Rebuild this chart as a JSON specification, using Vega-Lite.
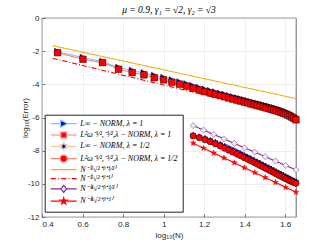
{
  "$schema": "https://vega.github.io/schema/vega-lite/v6.json",
  "width": 254,
  "height": 199,
  "autosize": "none",
  "padding": {"left": 42, "top": 18, "right": 31, "bottom": 28},
  "background": "white",
  "title": {"text": "μ = 0.9, γ₁ = √2, γ₂ = √3", "font": "Liberation Serif", "fontStyle": "italic", "fontSize": 9.5, "fontWeight": "normal", "color": "#000000", "offset": -0.5},
  "config": {
    "view": {"stroke": "#262626", "strokeWidth": 0.7},
    "axis": {"domain": false, "grid": true, "gridColor": "#e2e2e2", "gridWidth": 0.6, "tickColor": "#262626", "tickSize": -3, "tickWidth": 0.6, "labelFont": "Liberation Sans", "labelFontSize": 8, "labelColor": "#262626", "titleFont": "Liberation Sans", "titleFontSize": 8, "titleFontWeight": "normal", "titleColor": "#262626"}
  },
  "data": {"values": [
    {"s":"a","x":0.477,"y":-2.03},{"s":"a","x":0.602,"y":-2.39},{"s":"a","x":0.699,"y":-2.63},{"s":"a","x":0.778,"y":-2.99},{"s":"a","x":0.845,"y":-3.17},{"s":"a","x":0.903,"y":-3.31},{"s":"a","x":0.954,"y":-3.47},{"s":"a","x":1.0,"y":-3.6},{"s":"a","x":1.041,"y":-3.74},{"s":"a","x":1.079,"y":-3.86},{"s":"a","x":1.114,"y":-3.98},{"s":"a","x":1.146,"y":-4.1},{"s":"a","x":1.176,"y":-4.21},{"s":"a","x":1.204,"y":-4.31},{"s":"a","x":1.23,"y":-4.39},{"s":"a","x":1.255,"y":-4.47},{"s":"a","x":1.279,"y":-4.55},{"s":"a","x":1.301,"y":-4.62},{"s":"a","x":1.322,"y":-4.69},{"s":"a","x":1.342,"y":-4.76},{"s":"a","x":1.362,"y":-4.82},{"s":"a","x":1.38,"y":-4.88},{"s":"a","x":1.398,"y":-4.94},{"s":"a","x":1.415,"y":-4.99},{"s":"a","x":1.431,"y":-5.05},{"s":"a","x":1.447,"y":-5.1},{"s":"a","x":1.462,"y":-5.15},{"s":"a","x":1.477,"y":-5.19},{"s":"a","x":1.491,"y":-5.24},{"s":"a","x":1.505,"y":-5.29},{"s":"a","x":1.519,"y":-5.33},{"s":"a","x":1.531,"y":-5.38},{"s":"a","x":1.544,"y":-5.42},{"s":"a","x":1.556,"y":-5.46},{"s":"a","x":1.568,"y":-5.51},{"s":"a","x":1.58,"y":-5.56},{"s":"a","x":1.591,"y":-5.61},{"s":"a","x":1.602,"y":-5.66},{"s":"a","x":1.613,"y":-5.72},{"s":"a","x":1.623,"y":-5.78},{"s":"a","x":1.633,"y":-5.84},{"s":"a","x":1.643,"y":-5.91},{"s":"a","x":1.653,"y":-5.99},
    {"s":"b","x":0.477,"y":-2.09},{"s":"b","x":0.602,"y":-2.49},{"s":"b","x":0.699,"y":-2.69},{"s":"b","x":0.778,"y":-3.09},{"s":"b","x":0.845,"y":-3.29},{"s":"b","x":0.903,"y":-3.43},{"s":"b","x":0.954,"y":-3.6},{"s":"b","x":1.0,"y":-3.73},{"s":"b","x":1.041,"y":-3.87},{"s":"b","x":1.079,"y":-3.99},{"s":"b","x":1.114,"y":-4.11},{"s":"b","x":1.146,"y":-4.23},{"s":"b","x":1.176,"y":-4.34},{"s":"b","x":1.204,"y":-4.44},{"s":"b","x":1.23,"y":-4.52},{"s":"b","x":1.255,"y":-4.6},{"s":"b","x":1.279,"y":-4.68},{"s":"b","x":1.301,"y":-4.75},{"s":"b","x":1.322,"y":-4.82},{"s":"b","x":1.342,"y":-4.89},{"s":"b","x":1.362,"y":-4.95},{"s":"b","x":1.38,"y":-5.01},{"s":"b","x":1.398,"y":-5.07},{"s":"b","x":1.415,"y":-5.12},{"s":"b","x":1.431,"y":-5.18},{"s":"b","x":1.447,"y":-5.23},{"s":"b","x":1.462,"y":-5.28},{"s":"b","x":1.477,"y":-5.32},{"s":"b","x":1.491,"y":-5.37},{"s":"b","x":1.505,"y":-5.42},{"s":"b","x":1.519,"y":-5.46},{"s":"b","x":1.531,"y":-5.51},{"s":"b","x":1.544,"y":-5.55},{"s":"b","x":1.556,"y":-5.59},{"s":"b","x":1.568,"y":-5.64},{"s":"b","x":1.58,"y":-5.69},{"s":"b","x":1.591,"y":-5.74},{"s":"b","x":1.602,"y":-5.79},{"s":"b","x":1.613,"y":-5.85},{"s":"b","x":1.623,"y":-5.91},{"s":"b","x":1.633,"y":-5.98},{"s":"b","x":1.643,"y":-6.05},{"s":"b","x":1.653,"y":-6.14},
    {"s":"c","x":1.146,"y":-7.08},{"s":"c","x":1.176,"y":-7.17},{"s":"c","x":1.204,"y":-7.27},{"s":"c","x":1.23,"y":-7.38},{"s":"c","x":1.255,"y":-7.5},{"s":"c","x":1.279,"y":-7.62},{"s":"c","x":1.301,"y":-7.74},{"s":"c","x":1.322,"y":-7.86},{"s":"c","x":1.342,"y":-7.97},{"s":"c","x":1.362,"y":-8.08},{"s":"c","x":1.38,"y":-8.19},{"s":"c","x":1.398,"y":-8.3},{"s":"c","x":1.415,"y":-8.4},{"s":"c","x":1.431,"y":-8.5},{"s":"c","x":1.447,"y":-8.6},{"s":"c","x":1.462,"y":-8.69},{"s":"c","x":1.477,"y":-8.78},{"s":"c","x":1.491,"y":-8.87},{"s":"c","x":1.505,"y":-8.96},{"s":"c","x":1.519,"y":-9.04},{"s":"c","x":1.531,"y":-9.12},{"s":"c","x":1.544,"y":-9.2},{"s":"c","x":1.556,"y":-9.28},{"s":"c","x":1.568,"y":-9.36},{"s":"c","x":1.58,"y":-9.43},{"s":"c","x":1.591,"y":-9.5},{"s":"c","x":1.602,"y":-9.57},{"s":"c","x":1.613,"y":-9.64},{"s":"c","x":1.623,"y":-9.71},{"s":"c","x":1.633,"y":-9.77},{"s":"c","x":1.643,"y":-9.83},{"s":"c","x":1.653,"y":-9.89},
    {"s":"d","x":1.146,"y":-7.11},{"s":"d","x":1.176,"y":-7.22},{"s":"d","x":1.204,"y":-7.34},{"s":"d","x":1.23,"y":-7.46},{"s":"d","x":1.255,"y":-7.59},{"s":"d","x":1.279,"y":-7.72},{"s":"d","x":1.301,"y":-7.85},{"s":"d","x":1.322,"y":-7.97},{"s":"d","x":1.342,"y":-8.09},{"s":"d","x":1.362,"y":-8.2},{"s":"d","x":1.38,"y":-8.31},{"s":"d","x":1.398,"y":-8.42},{"s":"d","x":1.415,"y":-8.52},{"s":"d","x":1.431,"y":-8.62},{"s":"d","x":1.447,"y":-8.72},{"s":"d","x":1.462,"y":-8.81},{"s":"d","x":1.477,"y":-8.9},{"s":"d","x":1.491,"y":-8.99},{"s":"d","x":1.505,"y":-9.08},{"s":"d","x":1.519,"y":-9.16},{"s":"d","x":1.531,"y":-9.24},{"s":"d","x":1.544,"y":-9.32},{"s":"d","x":1.556,"y":-9.4},{"s":"d","x":1.568,"y":-9.48},{"s":"d","x":1.58,"y":-9.55},{"s":"d","x":1.591,"y":-9.62},{"s":"d","x":1.602,"y":-9.69},{"s":"d","x":1.613,"y":-9.76},{"s":"d","x":1.623,"y":-9.82},{"s":"d","x":1.633,"y":-9.87},{"s":"d","x":1.643,"y":-9.92},{"s":"d","x":1.653,"y":-9.97},
    {"s":"e","x":0.453,"y":-1.67},{"s":"e","x":1.653,"y":-4.86},
    {"s":"f","x":0.453,"y":-2.43},{"s":"f","x":1.653,"y":-5.96},
    {"s":"g","x":1.146,"y":-6.49},{"s":"g","x":1.197,"y":-6.76},{"s":"g","x":1.247,"y":-7.02},{"s":"g","x":1.298,"y":-7.29},{"s":"g","x":1.349,"y":-7.56},{"s":"g","x":1.399,"y":-7.83},{"s":"g","x":1.45,"y":-8.09},{"s":"g","x":1.501,"y":-8.36},{"s":"g","x":1.552,"y":-8.63},{"s":"g","x":1.602,"y":-8.89},{"s":"g","x":1.653,"y":-9.16},
    {"s":"h","x":1.146,"y":-7.55},{"s":"h","x":1.197,"y":-7.85},{"s":"h","x":1.247,"y":-8.14},{"s":"h","x":1.298,"y":-8.44},{"s":"h","x":1.349,"y":-8.73},{"s":"h","x":1.399,"y":-9.03},{"s":"h","x":1.45,"y":-9.32},{"s":"h","x":1.501,"y":-9.62},{"s":"h","x":1.552,"y":-9.91},{"s":"h","x":1.602,"y":-10.21},{"s":"h","x":1.653,"y":-10.5}
  ]},
  "encoding": {
    "x": {"field": "x", "type": "quantitative", "scale": {"domain": [0.4, 1.6532], "nice": false, "zero": false},
      "axis": {"values": [0.4, 0.6, 0.8, 1.0, 1.2, 1.4, 1.6], "labelExpr": "format(datum.value, '.1~f')", "title": "log₁₀(N)", "labelPadding": 6, "titlePadding": 3}},
    "y": {"field": "y", "type": "quantitative", "scale": {"domain": [-12, 0], "nice": false, "zero": false},
      "axis": {"values": [-12, -10, -8, -6, -4, -2, 0], "labelExpr": "'' + datum.value", "title": "log₁₀(Error)", "labelPadding": 6, "titlePadding": -2}}
  },
  "layer": [
    {
      "mark": {"type": "line", "strokeWidth": 1.1, "clip": false},
      "encoding": {
        "color": {"field": "s", "type": "nominal",
          "scale": {"domain": ["a","b","c","d","e","f","g","h"], "range": ["#8cc0f0", "#ff7f7f", "#f3c9a6", "#ff7f7f", "#edb120", "#ff0000", "#7e2f8e", "#ff0000"]},
          "legend": {
            "orient": "none", "legendX": 2.7, "legendY": 96.7, "title": null, "direction": "vertical",
            "symbolSize": 49, "symbolStrokeWidth": 1.2, "symbolOffset": 10, "labelOffset": 12,
            "labelFont": "Liberation Serif", "labelFontStyle": "italic", "labelFontSize": 8, "labelColor": "#000000",
            "padding": 4.5, "rowPadding": -0.7, "strokeColor": "#262626", "fillColor": "#ffffff",
            "labelExpr": "datum.value == 'a' ? 'L∞ − NORM, λ = 1' : datum.value == 'b' ? 'L²ω⁻¹⁄²,⁻¹⁄²,λ − NORM, λ = 1' : datum.value == 'c' ? 'L∞ − NORM, λ = 1/2' : datum.value == 'd' ? 'L²ω⁻¹⁄²,⁻¹⁄²,λ − NORM, λ = 1/2' : datum.value == 'e' ? 'N⁻⁽²√²⁺ᵝ⁺¹⁄²⁾' : datum.value == 'f' ? 'N⁻⁽²√²⁺ᵝ⁺¹⁾' : datum.value == 'g' ? 'N⁻⁽⁴√²⁺ᵝ⁺¹⁄²⁾' : 'N⁻⁽⁴√²⁺ᵝ⁺¹⁾'",
            "encode": {"symbols": {"update": {
              "shape": {"signal": "datum.value == 'a' ? 'M-3.7,0H-1M1,0H3.7M-0.9,-1L1.1,0L-0.9,1Z' : datum.value == 'b' ? 'M-3.7,0H-0.8M0.8,0H3.7M-0.8,-0.8H0.8V0.8H-0.8Z' : datum.value == 'c' ? 'M-3.7,0H-0.9M0.9,0H3.7M0,-1L0.289,-0.5L0.866,-0.5L0.577,0L0.866,0.5L0.289,0.5L0,1L-0.289,0.5L-0.866,0.5L-0.577,0L-0.866,-0.5L-0.289,-0.5Z' : datum.value == 'd' ? 'M-3.7,0H-1M1,0H3.7M1,0A1,1,0,1,1,-1,0A1,1,0,1,1,1,0Z' : datum.value == 'e' ? 'M-3.7,0H3.7' : datum.value == 'f' ? 'M-3.7,0H-2.2M-1.6,0H-1.3M-0.7,0H0.8M1.4,0H1.7M2.3,0H3.7' : datum.value == 'g' ? 'M-3.7,0H-0.8M0.8,0H3.7M0,-1L0.8,0L0,1L-0.8,0Z' : 'M-3.7,0H-1M1,0H3.7M0,-1L0.225,-0.309L0.951,-0.309L0.363,0.118L0.588,0.809L0,0.382L-0.588,0.809L-0.363,0.118L-0.951,-0.309L-0.225,-0.309Z'"},
              "fill": {"signal": "datum.value == 'a' || datum.value == 'c' ? '#0000ff' : datum.value == 'g' ? '#efe6f5' : datum.value == 'e' || datum.value == 'f' ? 'transparent' : '#ff0000'"}
            }}}
          }},
        "strokeDash": {"field": "s", "type": "nominal",
          "scale": {"domain": ["a","b","c","d","e","f","g","h"], "range": [[1,0],[1,0],[1,0],[1,0],[1,0],[5,2,1,2],[1,0],[1,0]]},
          "legend": null}
      }
    },
    {
      "transform": [{"filter": "datum.s != 'e' && datum.s != 'f'"}],
      "mark": {"type": "point", "filled": true, "strokeWidth": 0.5, "opacity": 1, "clip": false},
      "encoding": {
        "shape": {"field": "s", "type": "nominal",
          "scale": {"domain": ["a","b","c","d","g","h"], "range": ["triangle-right", "square", "M0,-1L0.289,-0.5L0.866,-0.5L0.577,0L0.866,0.5L0.289,0.5L0,1L-0.289,0.5L-0.866,0.5L-0.577,0L-0.866,-0.5L-0.289,-0.5Z", "circle", "diamond", "M0,-1L0.225,-0.309L0.951,-0.309L0.363,0.118L0.588,0.809L0,0.382L-0.588,0.809L-0.363,0.118L-0.951,-0.309L-0.225,-0.309Z"]},
          "legend": null},
        "fill": {"field": "s", "type": "nominal",
          "scale": {"domain": ["a","b","c","d","g","h"], "range": ["#0000ff", "#ff0000", "#0000ff", "#ff0000", "#efe6f5", "#ff0000"]},
          "legend": null},
        "stroke": {"field": "s", "type": "nominal",
          "scale": {"domain": ["a","b","c","d","g","h"], "range": ["#000000", "#000000", "#000000", "#000000", "#7e2f8e", "#ff0000"]},
          "legend": null},
        "size": {"field": "s", "type": "nominal",
          "scale": {"domain": ["a","b","c","d","g","h"], "range": [45, 36, 60, 55, 30, 60]},
          "legend": null}
      }
    }
  ]
}
